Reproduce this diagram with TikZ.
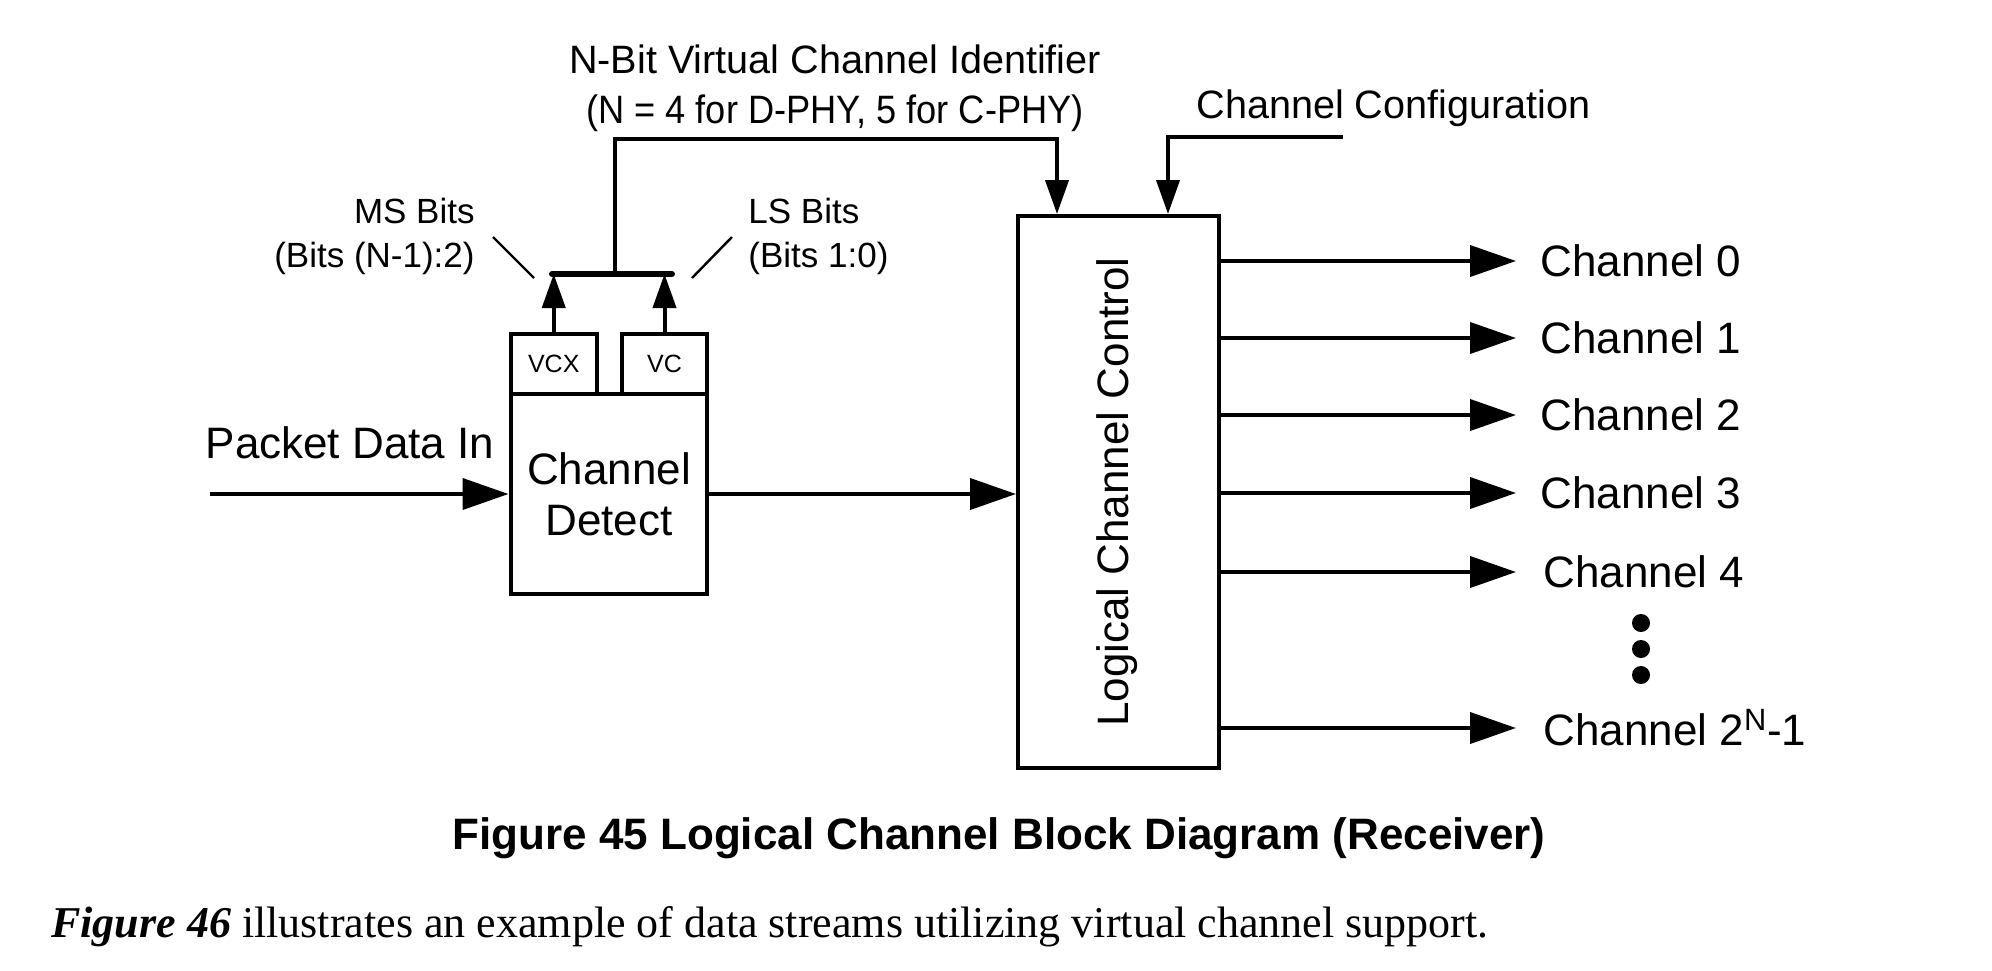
\documentclass[tikz,border=0pt]{standalone}
\usepackage{fontspec}
\setmainfont{Liberation Sans}
\newfontfamily\serifbody{Liberation Serif}
\usetikzlibrary{arrows.meta}
\begin{document}
\begin{tikzpicture}[x=0.5pt,y=-0.5pt,
  wire/.style={line width=2pt},
  harrow/.style={wire,-{Triangle[length=23pt,width=15.5pt]}},
  varrow/.style={wire,-{Triangle[length=17pt,width=11.5pt]}},
  blk/.style={draw,line width=2pt,inner sep=0pt},
  lbl/.style={inner sep=0pt,font=\fontsize{22}{26}\selectfont},
  toplbl/.style={inner sep=0pt,font=\fontsize{19.8}{25}\selectfont},
  bitlbl/.style={inner sep=0pt,font=\fontsize{17.5}{22}\selectfont},
  reglbl/.style={inner sep=0pt,font=\fontsize{12.5}{15}\selectfont},
  slash/.style={line width=1.2pt},
  dotmark/.style={circle,fill,inner sep=0pt,minimum size=9pt}]
\useasboundingbox (0,0) rectangle (1992,970);

% blocks
\node[blk,minimum width=100.5pt,minimum height=276pt] (lcc) at (1118.5,492) {};
\node[lbl,rotate=90] (lcctext) at (1117,492) {Logical Channel Control};
\node[blk,minimum width=98.25pt,minimum height=100pt] (cd) at (608.75,494) {};
\node[lbl,align=center,font=\fontsize{22}{25.5}\selectfont] (cdtext) at (609,494) {Channel\\Detect};
\node[blk,minimum width=43.25pt,minimum height=30pt] (vcx) at (553.75,364) {};
\node[reglbl] (vcxtext) at (553.75,364) {VCX};
\node[blk,minimum width=42.5pt,minimum height=30pt] (vc) at (664.5,364) {};
\node[reglbl] (vctext) at (664.5,364) {VC};

% bus
\coordinate (busL) at (552,274);
\coordinate (busR) at (672,274);
\coordinate (busmid) at (615,274);
\draw[line width=3pt,line cap=round] (busL) -- (busR);
\draw[varrow] (vcx.north) -- (vcx.north |- busL);
\draw[varrow] (vc.north) -- (vc.north |- busL);

% VC identifier to LCC
\coordinate (idtop) at (1057,139);
\draw[varrow] (busmid) |- (idtop) -- (idtop |- lcc.north);

% channel configuration
\coordinate (cfgstart) at (1343,137);
\coordinate (cfgcorner) at (1168,137);
\draw[varrow] (cfgstart) -- (cfgcorner) -- (cfgcorner |- lcc.north);

% packet data in
\coordinate (pin) at (210,494);
\draw[harrow] (pin) -- (cd.west);
\draw[harrow] (cd.east) -- (lcc.west |- cd.east);

% labels
\node[toplbl,align=center] (vcid) at (835,88) {N-Bit Virtual Channel Identifier\\\scalebox{0.915}[1]{(N = 4 for D-PHY, 5 for C-PHY)}};
\node[toplbl,anchor=west] (cfgl) at (1196,108) {Channel Configuration};
\node[bitlbl,align=right,anchor=east] (ms) at (475,236) {MS Bits\\(Bits (N-1):2)};
\node[bitlbl,align=left,anchor=west] (ls) at (748,236) {LS Bits\\(Bits 1:0)};
\coordinate (ms1) at (493,237);
\coordinate (ms2) at (534,278);
\coordinate (ls1) at (732,237);
\coordinate (ls2) at (692,278);
\draw[slash] (ms1) -- (ms2);
\draw[slash] (ls1) -- (ls2);
\node[lbl] (pdi) at (350,443) {Packet Data In};

% outputs
\foreach \i/\yy/\xx/\txt in {0/261/1540/Channel 0,1/338/1540/Channel 1,2/415/1540/Channel 2,3/493/1540/Channel 3,4/572/1543/Channel 4,5/728/1543/Channel 2\textsuperscript{N}-1}{
  \coordinate (tip\i) at (1516,\yy);
  \draw[harrow] (lcc.east |- tip\i) -- (tip\i);
  \node[lbl,anchor=west] (ch\i) at (\xx,\yy) {\txt};
}
\node[dotmark] (d1) at (1641,623) {};
\node[dotmark] (d2) at (1641,649) {};
\node[dotmark] (d3) at (1641,675) {};

% caption and body
\node[inner sep=0pt,font=\fontsize{22}{26}\selectfont\bfseries] (cap) at (999,838) {Figure 45 Logical Channel Block Diagram (Receiver)};
\node[inner sep=0pt,anchor=west,font=\fontsize{22}{26}\selectfont\serifbody] (body) at (51,927) {\textbf{\textit{Figure 46}} illustrates an example of data streams utilizing virtual channel support.};
\end{tikzpicture}
\end{document}
